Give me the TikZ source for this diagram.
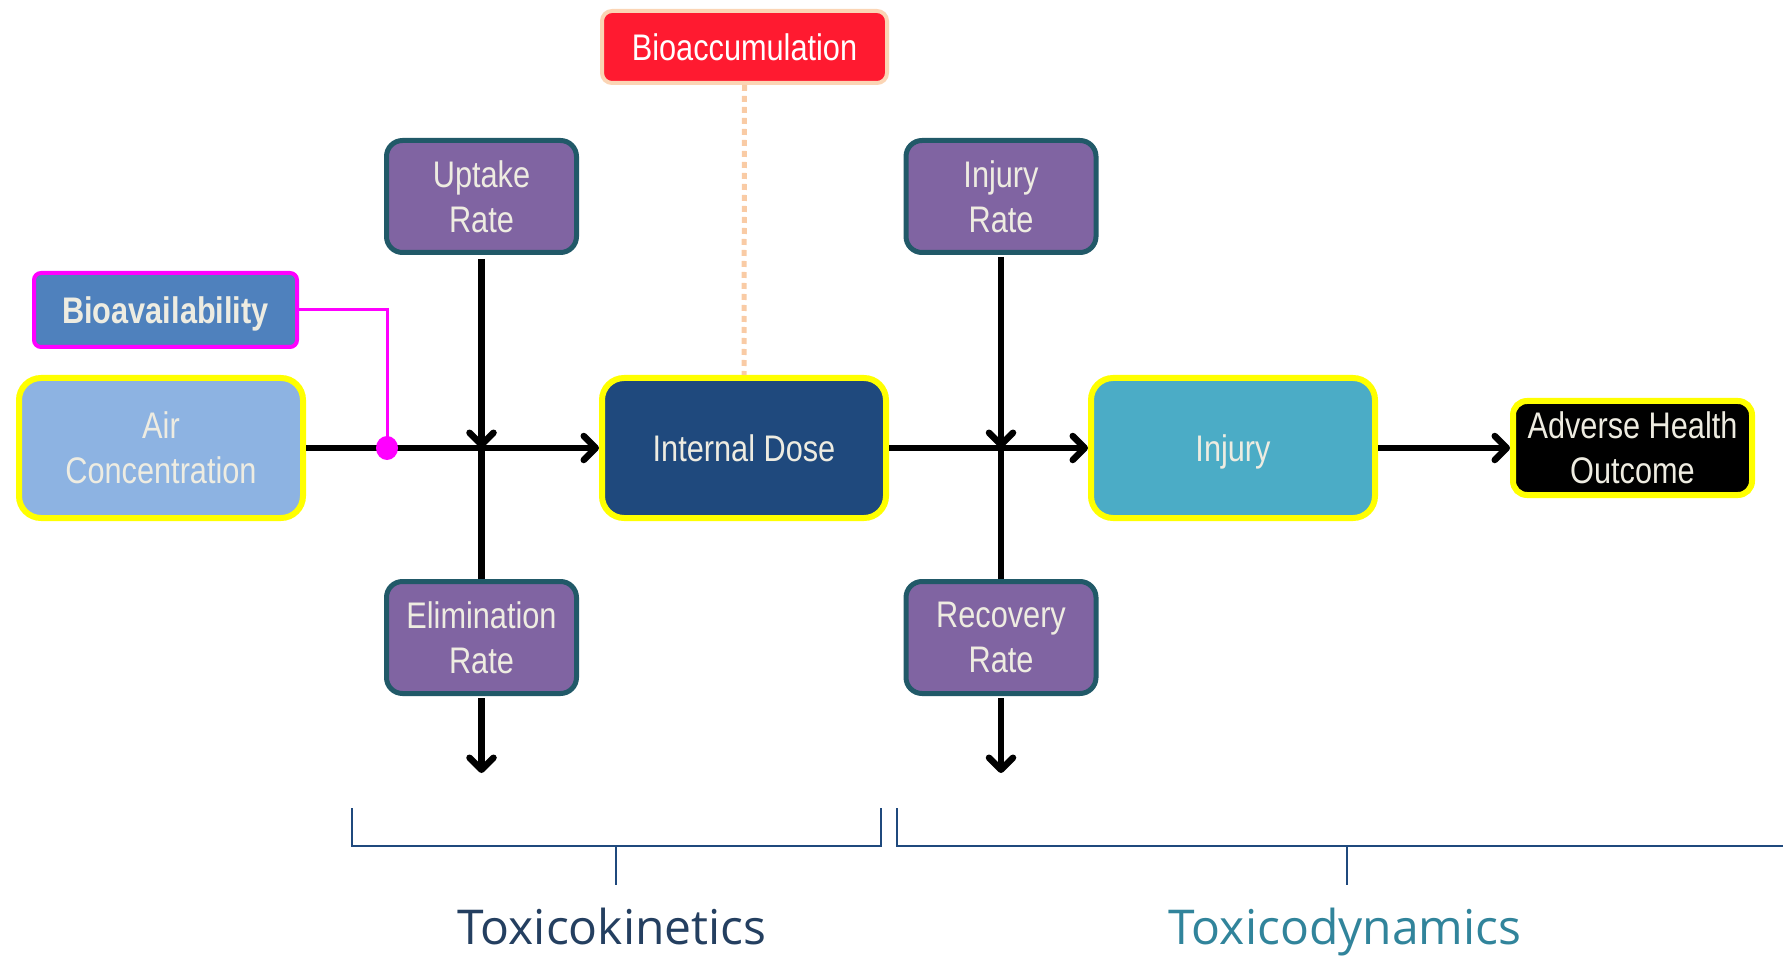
\documentclass[tikz,border=0pt]{standalone}
\usepackage{fontspec}
\setmainfont{Liberation Sans}
\newfontfamily\boxfont[FakeStretch=0.83]{Liberation Sans}
\newfontfamily\labfont{Open Sans}
\usetikzlibrary{arrows.meta}
\definecolor{cream}{HTML}{EEECE1}
\definecolor{ylw}{HTML}{FFFF00}
\definecolor{airblue}{HTML}{8DB3E2}
\definecolor{navy}{HTML}{1F497D}
\definecolor{teal}{HTML}{4BACC6}
\definecolor{purp}{HTML}{8064A2}
\definecolor{darkteal}{HTML}{215968}
\definecolor{redbox}{HTML}{FF1A30}
\definecolor{peach}{HTML}{FBD5B5}
\definecolor{dotpeach}{HTML}{F9CBA5}
\definecolor{biob}{HTML}{4F81BD}
\definecolor{magent}{HTML}{FF00FF}
\definecolor{tkblue}{HTML}{243F60}
\definecolor{tdteal}{HTML}{31849B}
\definecolor{brk}{HTML}{1F497D}
\tikzset{
  boxtxt/.style={font=\boxfont\fontsize{37}{45}\selectfont, text=cream, align=center, inner sep=0pt},
  oneline/.style={text height=27pt, text depth=0pt},
  mainbox/.style={boxtxt, draw=ylw, line width=6pt, rounded corners=22pt, minimum width=284pt, minimum height=140pt},
  ratebox/.style={boxtxt, draw=darkteal, fill=purp, line width=5pt, rounded corners=16pt, minimum width=190pt, minimum height=112pt},
  flow/.style={line width=6.5pt, -{Straight Barb[round,length=12pt,width=24pt]}},
  plain/.style={line width=6.5pt},
  brace/.style={draw=brk, line width=2.5pt},
  seclab/.style={font=\labfont\fontsize{48}{56}\selectfont, inner sep=0pt, anchor=base}
}
\begin{document}
\begin{tikzpicture}[x=1pt,y=-1pt]
\useasboundingbox (0,0) rectangle (1783,957);
% main boxes
\node[mainbox, fill=airblue] (air) at (161,448) {Air\\Concentration};
\node[mainbox, oneline, fill=navy] (dose) at (744,448) {Internal Dose};
\node[mainbox, oneline, fill=teal] (inj) at (1233,448) {Injury};
\node[boxtxt, draw=ylw, fill=black, line width=6pt, rounded corners=14pt, minimum width=239pt, minimum height=94pt] (aho) at (1632.5,448) {Adverse Health\\Outcome};
% rate boxes
\node[ratebox] (up) at (481.5,196.5) {Uptake\\Rate};
\node[ratebox] (el) at (481.5,637.5) {Elimination\\Rate};
\node[ratebox] (ir) at (1001,196.5) {Injury\\Rate};
\node[ratebox] (rr) at (1001,637.5) {Recovery\\Rate};
% bioaccumulation
\node[boxtxt, oneline, text=white, draw=peach, fill=redbox, line width=4pt, rounded corners=10pt, minimum width=285pt, minimum height=72pt] (bacc) at (744.5,47) {Bioaccumulation};
% bioavailability
\node[boxtxt, oneline, font=\boxfont\bfseries\fontsize{37}{45}\selectfont, draw=magent, fill=biob, line width=4pt, rounded corners=7pt, minimum width=263pt, minimum height=74pt] (bav) at (165.5,310) {Bioavailability};
% junction coordinates
\coordinate (j1) at (up.south |- air.east);
\coordinate (j2) at (ir.south |- air.east);
\coordinate (dot) at (387,448);
\coordinate (elout) at (481.5,773);
\coordinate (rrout) at (1001,773);
% dotted link
\draw[dotpeach, line width=5pt, dash pattern=on 6pt off 5pt] (bacc.south) -- (dose.north);
% flows
\draw[flow] (air.east) -- (dose.west);
\draw[flow] (dose.east) -- (inj.west);
\draw[flow] (inj.east) -- (aho.west);
\draw[flow] ([yshift=-4pt]up.south) -- (j1);
\draw[plain] (j1) -- (el.north);
\draw[flow] ([yshift=-2pt]el.south) -- (elout);
\draw[flow] ([yshift=-2pt]ir.south) -- (j2);
\draw[plain] (j2) -- (rr.north);
\draw[flow] ([yshift=-2pt]rr.south) -- (rrout);
% bioavailability link
\draw[magent, line width=3pt] (bav.east) -| (dot);
\fill[magent] (dot) ellipse (11pt and 12pt);
% brackets
\draw[brace] (352,808) -- (352,846) -- (881,846) -- (881,808);
\draw[brace] (616,846) -- (616,885);
\draw[brace] (897,808) -- (897,846) -- (1783,846);
\draw[brace] (1347,846) -- (1347,885);
\node[seclab, text=tkblue] (tk) at (612,944) {Toxicokinetics};
\node[seclab, text=tdteal] (td) at (1345,944) {Toxicodynamics};
\end{tikzpicture}
\end{document}
